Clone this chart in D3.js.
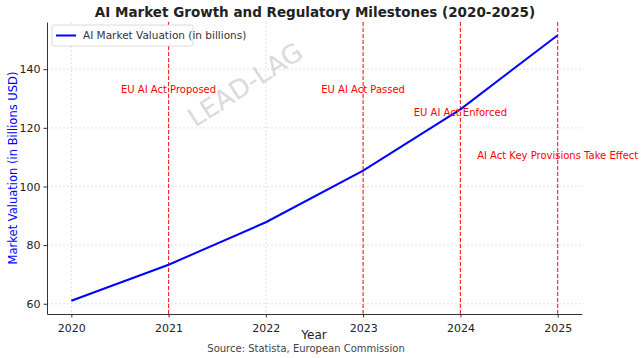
<!DOCTYPE html>
<html><head><meta charset="utf-8">
<script src="https://cdn.jsdelivr.net/npm/d3@7"></script>
<style>body{margin:0;background:#fff;} svg{display:block;font-family:"DejaVu Sans",sans-serif;}</style>
</head><body>
<svg id="c" width="642" height="358"></svg>
<script>
const years = [2020, 2021, 2022, 2023, 2024, 2025];
const valuation = [61, 73.3, 87.8, 105.4, 126.3, 151.6];
const yTicks = [60, 80, 100, 120, 140];
const milestoneYears = [2021, 2023, 2024, 2025];
const milestoneLabels = ["EU AI Act Proposed", "EU AI Act Passed", "EU AI Act Enforced", "AI Act Key Provisions Take Effect"];
const milestoneLabelY = [133, 133, 125.2, 110.3];

const svg = d3.select("#c");
const L = 47, R = 582, T = 22, B = 314;
const x = d3.scaleLinear().domain([2019.75, 2025.25]).range([L, R]);
const y = d3.scaleLinear().domain([56.5, 156.1]).range([B, T]);

// grid
const g = svg.append("g");
g.selectAll(".gx").data(years).join("line")
  .attr("x1", d => x(d)).attr("x2", d => x(d)).attr("y1", T).attr("y2", B)
  .attr("stroke", "#d9d9d9").attr("stroke-width", 0.8).attr("stroke-dasharray", "2,2");
g.selectAll(".gy").data(yTicks).join("line")
  .attr("x1", L).attr("x2", R).attr("y1", d => y(d)).attr("y2", d => y(d))
  .attr("stroke", "#d9d9d9").attr("stroke-width", 0.8).attr("stroke-dasharray", "2,2");

// watermark
svg.append("text").attr("transform", "translate(246,86) rotate(-33)")
  .attr("text-anchor", "middle").attr("dominant-baseline", "middle")
  .attr("font-size", 26).attr("fill", "#dadada").text("LEAD-LAG");

// milestone lines
svg.selectAll(".ml").data(milestoneYears).join("line")
  .attr("x1", d => x(d)).attr("x2", d => x(d)).attr("y1", T).attr("y2", B)
  .attr("stroke", "#ff2020").attr("stroke-width", 1.1).attr("stroke-dasharray", "4,2");

// line
svg.append("path").datum(years.map((d, i) => [d, valuation[i]]))
  .attr("d", d3.line().x(d => x(d[0])).y(d => y(d[1])))
  .attr("fill", "none").attr("stroke", "#0000ff").attr("stroke-width", 2);

// milestone labels
svg.selectAll(".mt").data(milestoneYears).join("text")
  .attr("x", d => x(d)).attr("y", (d, i) => y(milestoneLabelY[i]))
  .attr("text-anchor", "middle").attr("dominant-baseline", "middle")
  .attr("font-size", 10).attr("fill", "#ff0000")
  .text((d, i) => milestoneLabels[i]);

// axes
const xa = svg.append("g").attr("transform", `translate(0,${B})`)
  .call(d3.axisBottom(x).tickValues(years).tickFormat(d3.format("d")).tickSize(3.5).tickSizeOuter(0));
const ya = svg.append("g").attr("transform", `translate(${L},0)`)
  .call(d3.axisLeft(y).tickValues(yTicks).tickSize(3.5).tickSizeOuter(0));
[xa, ya].forEach(a => {
  a.select(".domain").attr("stroke", "#333").attr("stroke-width", 1);
  a.selectAll(".tick line").attr("stroke", "#333");
  a.selectAll(".tick text").attr("font-size", 11).attr("fill", "#222").attr("font-family", "DejaVu Sans");
});
xa.selectAll(".tick text").attr("dy", "1.05em");

// legend
svg.append("rect").attr("x", 52).attr("y", 25).attr("width", 141).attr("height", 21)
  .attr("rx", 2).attr("fill", "#fff").attr("stroke", "#d0d0d0").attr("stroke-width", 0.8);
svg.append("line").attr("x1", 56).attr("x2", 76).attr("y1", 35.5).attr("y2", 35.5)
  .attr("stroke", "#0000ff").attr("stroke-width", 2);
svg.append("text").attr("x", 83).attr("y", 35.5).attr("dominant-baseline", "middle")
  .attr("font-size", 10.5).attr("fill", "#333").text("AI Market Valuation (in billions)");

// title & labels
svg.append("text").attr("x", 315).attr("y", 13).attr("text-anchor", "middle").attr("dominant-baseline", "middle")
  .attr("font-size", 13.5).attr("font-weight", "bold").attr("fill", "#222")
  .text("AI Market Growth and Regulatory Milestones (2020-2025)");
svg.append("text").attr("transform", "translate(13,168) rotate(-90)").attr("text-anchor", "middle")
  .attr("dominant-baseline", "middle").attr("font-size", 11.5).attr("fill", "#0000ff")
  .text("Market Valuation (in Billions USD)");
svg.append("text").attr("x", 314).attr("y", 335.5).attr("text-anchor", "middle").attr("dominant-baseline", "middle")
  .attr("font-size", 12).attr("fill", "#222").text("Year");
svg.append("text").attr("x", 306).attr("y", 348.5).attr("text-anchor", "middle").attr("dominant-baseline", "middle")
  .attr("font-size", 10).attr("fill", "#444").text("Source: Statista, European Commission");
</script>
</body></html>
